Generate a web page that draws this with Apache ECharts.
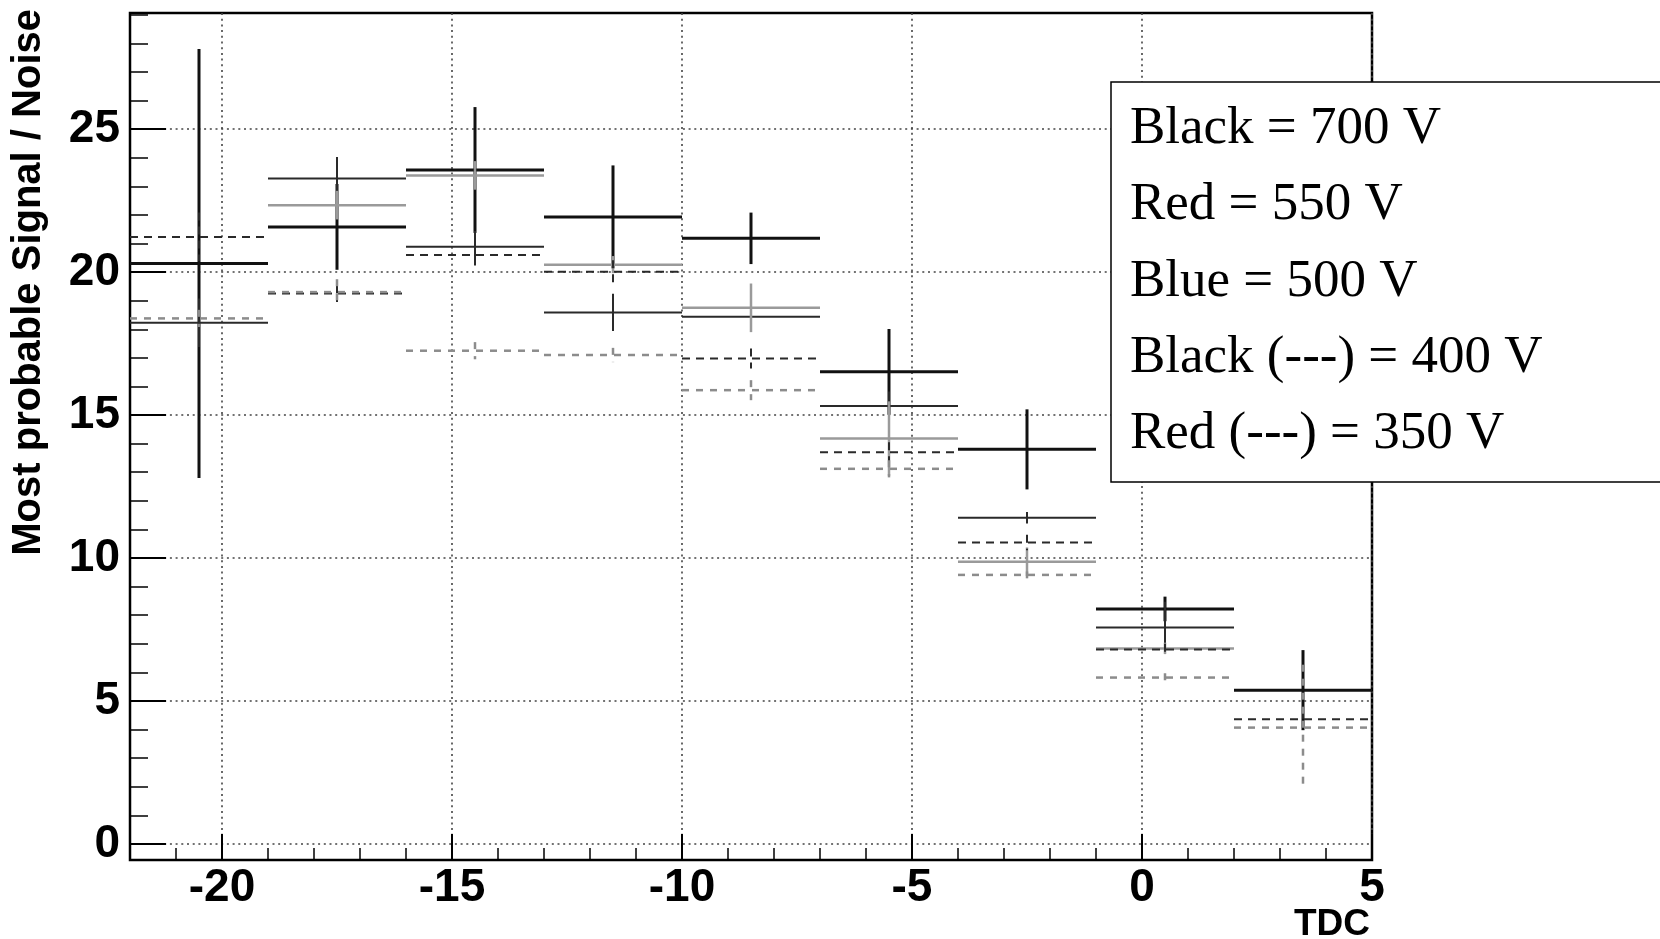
<!DOCTYPE html>
<html>
<head>
<meta charset="utf-8">
<title>Most probable Signal / Noise vs TDC</title>
<script src="https://cdn.jsdelivr.net/npm/echarts@6.0.0/dist/echarts.min.js"></script>
<style>
html,body{margin:0;padding:0;background:#fff;}
#chart{width:1660px;height:939px;}
</style>
</head>
<body>
<div id="chart"></div>
<script>
// TDC bins (width 3), centre of each bin
var tdc=[-20.5,-17.5,-14.5,-11.5,-8.5,-5.5,-2.5,0.5,3.5];
var binHalf=1.5;

// most probable S/N per voltage + error (null = no point)
var sn700=[20.3,21.58,23.57,21.93,21.18,16.51,13.8,8.22,5.38];
var err700=[7.5,1.5,2.2,1.8,0.9,1.5,1.4,0.43,1.4];
var sn550=[18.23,23.27,20.89,18.59,18.44,15.32,11.41,7.57,null];
var err550=[0.85,0.75,0.55,0.65,0.4,0.5,0.2,0.9,null];
var sn500=[null,22.34,23.38,20.26,18.75,14.18,9.87,6.84,null];
var err500=[null,0.5,0.5,0.3,0.85,1.3,0.5,0.2,null];
var sn400=[21.23,19.25,20.6,20.01,16.98,13.7,10.54,6.8,4.36];
var err400=[0.85,0.3,0.4,0.4,0.35,0.35,0.27,0.2,0.3];
var sn350=[18.38,19.3,17.25,17.1,15.87,13.12,9.41,5.82,4.07];
var err350=[0.3,0.45,0.3,0.25,0.35,0.3,0.12,0.15,2.2];

var legendLabels=['Black = 700 V','Red = 550 V','Blue = 500 V','Black (---) = 400 V','Red (---) = 350 V'];

// axis ranges / ticks
var xMin=-22,xMax=5,yMin=-0.56,yMax=29.06;
var xMajor=[-20,-15,-10,-5,0,5];
var yMajor=[0,5,10,15,20,25];
var xMinor=[];
for(var i=-22;i<=5;i++) xMinor.push(i);
var yMinor=[];
for(var j=0;j<=29;j++) yMinor.push(j);

// grayscale look of the original
var styles=[
    {color:'#111',width:3,dash:null},
    {color:'#2a2a2a',width:2,dash:null},
    {color:'#9a9a9a',width:2.5,dash:null},
    {color:'#2a2a2a',width:2,dash:[8,6]},
    {color:'#8c8c8c',width:2.5,dash:[7,7]}
];
var allSn=[sn700,sn550,sn500,sn400,sn350];
var allErr=[err700,err550,err500,err400,err350];

function makeData(sn,err){
    var out=[];
    for(var k=0;k<tdc.length;k++){
        if(sn[k]==null) continue;
        out.push([tdc[k],sn[k],binHalf,err[k]]);
    }
    return out;
}

function makeRender(st){
    return function(params,api){
        var x=api.value(0),y=api.value(1),ex=api.value(2),ey=api.value(3);
        var l=api.coord([x-ex,y]),r=api.coord([x+ex,y]);
        var t=api.coord([x,y+ey]),b=api.coord([x,y-ey]);
        var ls={stroke:st.color,lineWidth:st.width,lineDash:st.dash};
        return {type:'group',children:[
            {type:'line',shape:{x1:l[0],y1:l[1],x2:r[0],y2:r[1]},style:ls},
            {type:'line',shape:{x1:t[0],y1:t[1],x2:b[0],y2:b[1]},style:ls}
        ]};
    };
}

var series=[];
for(var s=0;s<allSn.length;s++){
    series.push({
        name:legendLabels[s],
        type:'custom',
        xAxisIndex:0,
        yAxisIndex:0,
        clip:true,
        encode:{x:0,y:1},
        renderItem:makeRender(styles[s]),
        data:makeData(allSn[s],allErr[s])
    });
}

var font='Liberation Sans';
var grid1={color:'#444',width:1.6,type:[2,3.7]};

// text box in the upper right (drawn on top of grid lines)
var legendEls=[{
    type:'rect',
    z:100,zlevel:1,
    shape:{x:1111,y:82,width:560,height:400},
    style:{fill:'#fff',stroke:'#000',lineWidth:1.5}
}];
for(var n=0;n<legendLabels.length;n++){
    legendEls.push({
        type:'text',
        z:101,zlevel:1,
        x:1130,
        y:129+n*76.3,
        style:{text:legendLabels[n],font:'53px "Liberation Serif"',fill:'#000',align:'left',verticalAlign:'middle'}
    });
}

var option={
    animation:false,
    backgroundColor:'#fff',
    grid:{show:true,left:130,right:288,top:13,bottom:79,borderColor:'#000',borderWidth:2.5,backgroundColor:'#fff',containLabel:false,outerBoundsMode:'none'},
    xAxis:[
        {type:'value',min:xMin,max:xMax,interval:1,position:'bottom',
            axisLine:{show:false,onZero:false},
            axisTick:{show:true,inside:true,length:12,customValues:xMinor,lineStyle:{color:'#000',width:1.5}},
            axisLabel:{show:false},splitLine:{show:false}},
        {type:'value',min:xMin,max:xMax,position:'bottom',
            axisLine:{show:false,onZero:false},
            axisTick:{show:true,inside:true,length:26,customValues:xMajor,lineStyle:{color:'#000',width:2}},
            axisLabel:{customValues:xMajor,fontSize:46,lineHeight:46,fontWeight:'bold',fontFamily:font,color:'#000',margin:5},
            splitLine:{show:true,lineStyle:grid1}}
    ],
    yAxis:[
        {type:'value',min:yMin,max:yMax,position:'left',
            axisLine:{show:false,onZero:false},
            axisTick:{show:true,inside:true,length:18,customValues:yMinor,lineStyle:{color:'#000',width:1.5}},
            axisLabel:{show:false},splitLine:{show:false}},
        {type:'value',min:yMin,max:yMax,position:'left',
            axisLine:{show:false,onZero:false},
            axisTick:{show:true,inside:true,length:36,customValues:yMajor,lineStyle:{color:'#000',width:2}},
            axisLabel:{customValues:yMajor,fontSize:46,fontWeight:'bold',fontFamily:font,color:'#000',margin:10},
            splitLine:{show:true,lineStyle:grid1}}
    ],
    graphic:[
        {type:'text',x:29,y:9,rotation:Math.PI/2,z:10,
            style:{text:'Most probable Signal / Noise',font:'bold 40px "Liberation Sans"',fill:'#000',align:'right',verticalAlign:'middle'}},
        {type:'text',x:1370,y:925,z:10,
            style:{text:'TDC',font:'bold 37px "Liberation Sans"',fill:'#000',align:'right',verticalAlign:'middle'}}
    ].concat(legendEls),
    series:series
};

var chart=echarts.init(document.getElementById('chart'));
chart.setOption(option);
</script>
</body>
</html>
